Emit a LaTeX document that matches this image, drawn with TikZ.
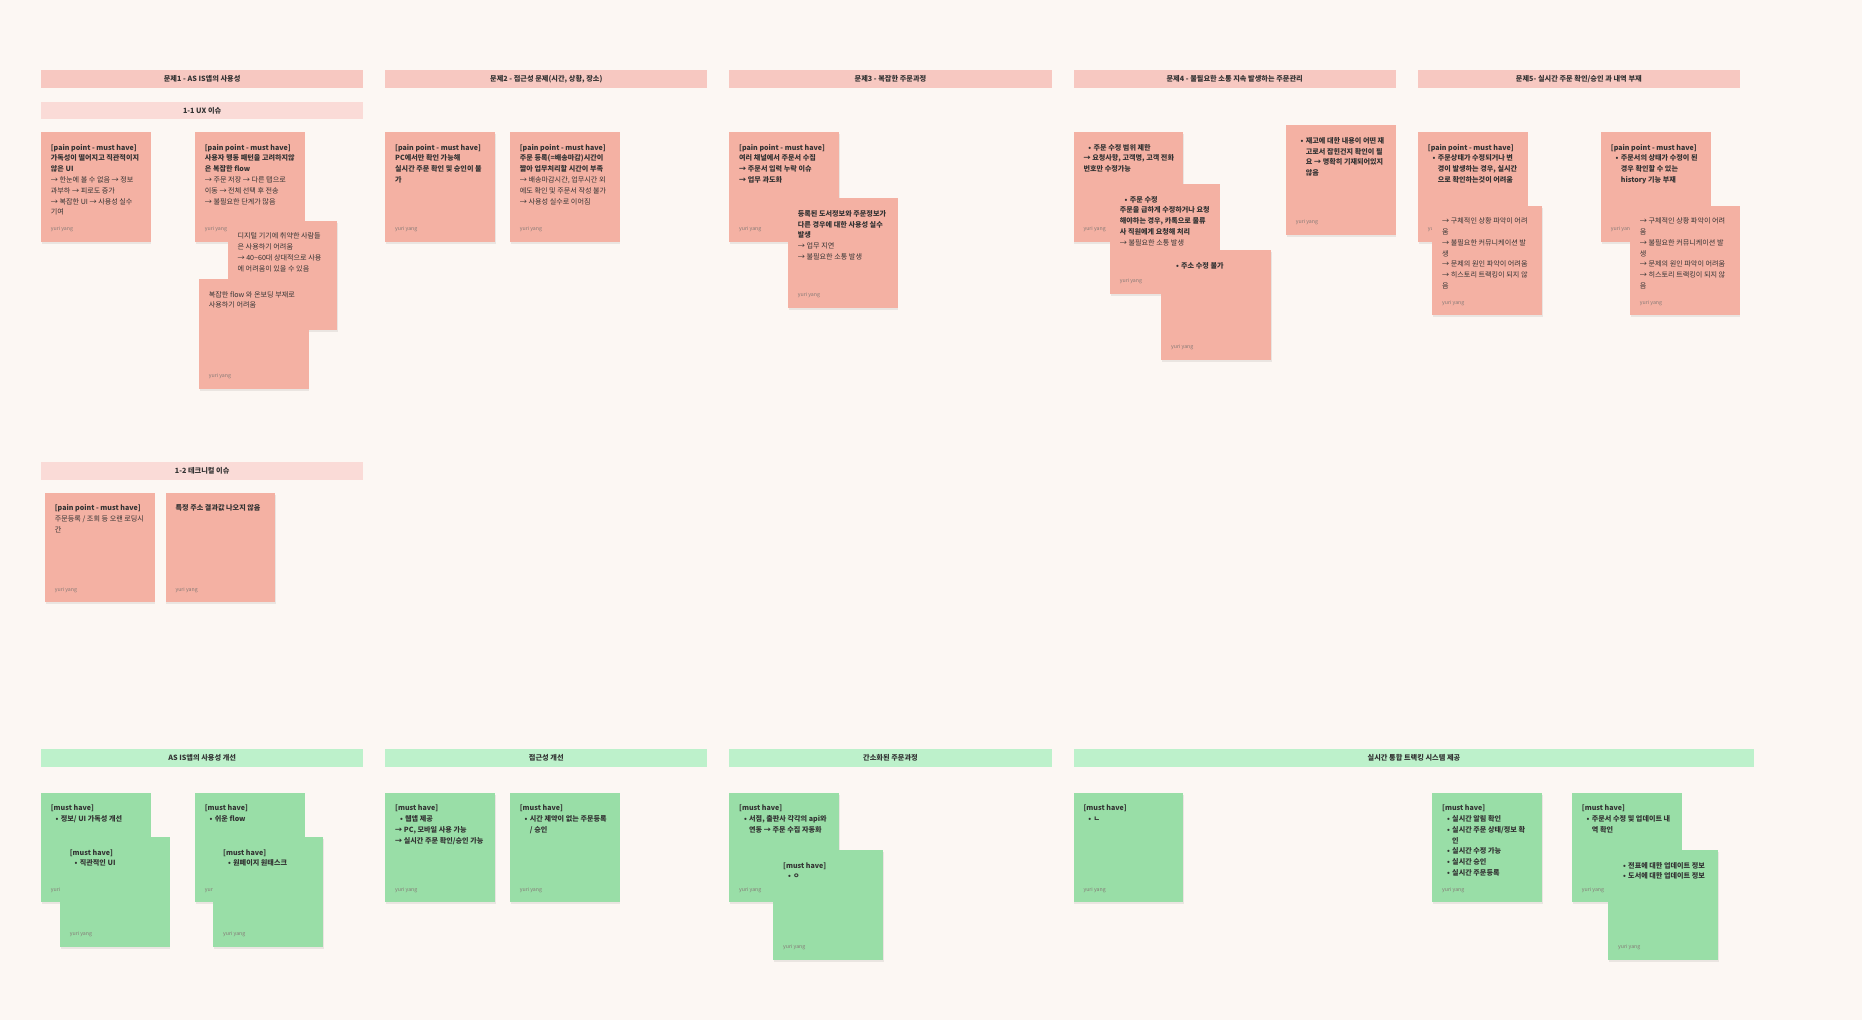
\documentclass[tikz,border=0pt]{standalone}
\usepackage{fontspec}
\setmainfont{Noto Sans CJK KR}
\definecolor{bgc}{HTML}{FCF7F3}
\definecolor{notepink}{HTML}{F4B1A3}
\definecolor{hdrpink}{HTML}{F7C8C1}
\definecolor{subpink}{HTML}{FADBD7}
\definecolor{notegreen}{HTML}{99DEA7}
\definecolor{hdrgreen}{HTML}{BDF1CB}
\definecolor{textdark}{HTML}{333333}
\definecolor{authorgray}{HTML}{857A76}
\newcommand\myb[1]{{\bfseries #1}}
\newcommand\bul{\hspace*{4.8pt}\makebox[5.2pt][l]{\textbullet}}
\newcommand\cind{\hspace*{10pt}}
\tikzset{
  notebox/.style={minimum width=109.7pt, minimum height=109.7pt, inner sep=0pt, outer sep=0pt},
  pinknote/.style={notebox, fill=notepink},
  greennote/.style={notebox, fill=notegreen},
  notetext/.style={inner sep=0pt, text=textdark, font=\fontsize{7.1}{10.8}\selectfont},
  author/.style={inner sep=0pt, text=authorgray, font=\fontsize{5.2}{6}\selectfont},
  hdrbar/.style={minimum height=17.7pt, inner sep=0pt, outer sep=0pt, text=textdark, font=\bfseries\fontsize{7.2}{8}\selectfont},
  shadowc/.style={fill=black, opacity=0.07},
}
% #1 name, #2 style, #3 x, #4 y, #5 text
\newcommand\stick[5]{%
  \fill[shadowc] (#3+0.6,#4+1.8) rectangle ++(109.7,109.7);
  \node[#2, anchor=north west] (#1) at (#3,#4) {};
  \node[notetext, anchor=base west] (#1-t) at (#3+9.7,#4+18) {\parbox[t]{200pt}{\raggedright #5}};
  \node[author, anchor=base west] (#1-a) at (#3+9.7,#4+98.5) {yuri yang};
}
\begin{document}
\begin{tikzpicture}[x=1pt,y=-1pt]
\fill[bgc] (0,0) rectangle (1862,1020);
\useasboundingbox (0,0) rectangle (1862,1020);

% ---------- pink headers ----------
\node[hdrbar, fill=hdrpink, minimum width=322.3pt, anchor=north west] (h1) at (41,70) {문제1 - AS IS앱의 사용성};
\node[hdrbar, fill=hdrpink, minimum width=322pt, anchor=north west] (h2) at (385.3,70) {문제2 - 접근성 문제(시간, 상황, 장소)};
\node[hdrbar, fill=hdrpink, minimum width=322.4pt, anchor=north west] (h3) at (729.3,70) {문제3 - 복잡한 주문과정};
\node[hdrbar, fill=hdrpink, minimum width=322pt, anchor=north west] (h4) at (1073.7,70) {문제4 - 불필요한 소통 지속 발생하는 주문관리};
\node[hdrbar, fill=hdrpink, minimum width=321.7pt, anchor=north west] (h5) at (1418,70) {문제5- 실시간 주문 확인/승인 과 내역 부재};
\node[hdrbar, fill=subpink, minimum width=322.3pt, anchor=north west] (sub1) at (41,101.7) {1-1 UX 이슈};
\node[hdrbar, fill=subpink, minimum width=322.3pt, anchor=north west] (sub2) at (41,462) {1-2 테크니컬 이슈};

% ---------- green headers ----------
\node[hdrbar, fill=hdrgreen, minimum width=322.3pt, anchor=north west] (gh1) at (41,749) {AS IS앱의 사용성 개선};
\node[hdrbar, fill=hdrgreen, minimum width=322pt, anchor=north west] (gh2) at (385.3,749) {접근성 개선};
\node[hdrbar, fill=hdrgreen, minimum width=322.4pt, anchor=north west] (gh3) at (729.3,749) {간소화된 주문과정};
\node[hdrbar, fill=hdrgreen, minimum width=680.6pt, anchor=north west] (gh4) at (1073.7,749) {실시간 통합 트랙킹 시스템 제공};

% ---------- section 1 ----------
\stick{p1a}{pinknote}{41}{132}{\myb{[pain point - must have]\\가독성이 떨어지고 직관적이지\\않은 UI}\\→ 한눈에 볼 수 없음 → 정보\\과부하 → 피로도 증가\\→ 복잡한 UI → 사용성 실수\\기여}
\stick{p1b}{pinknote}{195}{132}{\myb{[pain point - must have]\\사용자 행동 패턴을 고려하지않\\은 복잡한 flow}\\→ 주문 저장 → 다른 탭으로\\이동 → 전체 선택 후 전송\\→ 불필요한 단계가 많음}
\stick{p1c}{pinknote}{227.7}{220.7}{디지털 기기에 취약한 사람들\\은 사용하기 어려움\\→ 40\textasciitilde60대 상대적으로 사용\\에 어려움이 있을 수 있음}
\stick{p1d}{pinknote}{199}{279}{복잡한 flow 와 온보딩 부재로\\사용하기 어려움}

\stick{t1}{pinknote}{45}{492.7}{\myb{[pain point - must have]}\\주문등록 / 조회 등 오랜 로딩시\\간}
\stick{t2}{pinknote}{165.7}{492.7}{\myb{특정 주소 결과값 나오지 않음}}

% ---------- section 2 ----------
\stick{p2a}{pinknote}{385.3}{132}{\myb{[pain point - must have]\\PC에서만 확인 가능해\\실시간 주문 확인 및 승인이 불\\가}}
\stick{p2b}{pinknote}{510}{132}{\myb{[pain point - must have]\\주문 등록(=배송마감)시간이\\짧아 업무처리할 시간이 부족}\\→ 배송마감시간, 업무시간 외\\에도 확인 및 주문서 작성 불가\\→ 사용성 실수로 이어짐}

% ---------- section 3 ----------
\stick{p3a}{pinknote}{729.3}{132}{\myb{[pain point - must have]\\여러 채널에서 주문서 수집\\→ 주문서 입력 누락 이슈\\→ 업무 과도화}}
\stick{p3b}{pinknote}{788}{198.3}{\myb{등록된 도서정보와 주문정보가\\다른 경우에 대한 사용성 실수\\발생}\\→ 업무 지연\\→ 불필요한 소통 발생}

% ---------- section 4 ----------
\stick{p4a}{pinknote}{1073.7}{132}{\myb{\bul 주문 수정 범위 제한\\→ 요청사항, 고객명, 고객 전화\\번호만 수정가능}}
\stick{p4b}{pinknote}{1110}{184}{\myb{\bul 주문 수정\\주문을 급하게 수정하거나 요청\\해야하는 경우, 카톡으로 물류\\사 직원에게 요청해 처리}\\→ 불필요한 소통 발생}
\stick{p4c}{pinknote}{1161.3}{250}{\myb{\bul 주소 수정 불가}}
\stick{p4d}{pinknote}{1286}{125.3}{\myb{\bul 재고에 대한 내용이 어떤 재\\\cind 고로서 잡힌건지 확인이 필\\\cind 요 → 명확히 기재되어있지\\\cind 않음}}

% ---------- section 5 ----------
\stick{p5a}{pinknote}{1418}{132}{\myb{[pain point - must have]\\\bul 주문상태가 수정되거나 변\\\cind 경이 발생하는 경우, 실시간\\\cind 으로 확인하는것이 어려움}}
\stick{p5b}{pinknote}{1432.3}{205.7}{→ 구체적인 상황 파악이 어려\\움\\→ 불필요한 커뮤니케이션 발\\생\\→ 문제의 원인 파악이 어려움\\→ 히스토리 트랙킹이 되지 않\\음}
\stick{p5c}{pinknote}{1601}{132}{\myb{[pain point - must have]\\\bul 주문서의 상태가 수정이 된\\\cind 경우 확인할 수 있는\\\cind history 기능 부재}}
\stick{p5d}{pinknote}{1630}{205.7}{→ 구체적인 상황 파악이 어려\\움\\→ 불필요한 커뮤니케이션 발\\생\\→ 문제의 원인 파악이 어려움\\→ 히스토리 트랙킹이 되지 않\\음}

% ---------- green notes ----------
\stick{g1a}{greennote}{41}{792.7}{\myb{[must have]\\\bul 정보/ UI 가독성 개선}}
\stick{g1b}{greennote}{60}{837}{\myb{[must have]\\\bul 직관적인 UI}}
\stick{g1c}{greennote}{195}{792.7}{\myb{[must have]\\\bul 쉬운 flow}}
\stick{g1d}{greennote}{213.3}{837}{\myb{[must have]\\\bul 원페이지 원태스크}}

\stick{g2a}{greennote}{385.3}{792.7}{\myb{[must have]\\\bul 웹앱 제공\\→ PC, 모바일 사용 가능\\→ 실시간 주문 확인/승인 가능}}
\stick{g2b}{greennote}{510}{792.7}{\myb{[must have]\\\bul 시간 제약이 없는 주문등록\\\cind / 승인}}

\stick{g3a}{greennote}{729.3}{792.7}{\myb{[must have]\\\bul 서점, 출판사 각각의 api와\\\cind 연동 → 주문 수집 자동화}}
\stick{g3b}{greennote}{773.3}{850}{\myb{[must have]\\\bul ㅇ}}

\stick{g4a}{greennote}{1073.7}{792.7}{\myb{[must have]\\\bul ㄴ}}
\stick{g4b}{greennote}{1432.3}{792.7}{\myb{[must have]\\\bul 실시간 알림 확인\\\bul 실시간 주문 상태/정보 확\\\cind 인\\\bul 실시간 수정 가능\\\bul 실시간 승인\\\bul 실시간 주문등록}}
\stick{g4c}{greennote}{1572}{792.7}{\myb{[must have]\\\bul 주문서 수정 및 업데이트 내\\\cind 역 확인}}
\stick{g4d}{greennote}{1608.3}{850}{\myb{\bul 전표에 대한 업데이트 정보\\\bul 도서에 대한 업데이트 정보}}
\end{tikzpicture}
\end{document}
